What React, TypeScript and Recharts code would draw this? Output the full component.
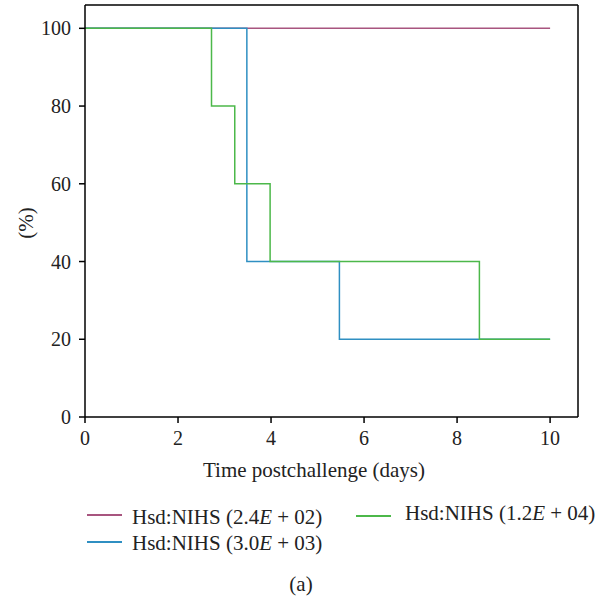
import React from 'react';
import { LineChart, Line, XAxis, YAxis, ReferenceLine } from 'recharts';

const xTicks = [0, 2, 4, 6, 8, 10];
const yTicks = [0, 20, 40, 60, 80, 100];

const seriesLow = [
  { x: 0, y: 100 },
  { x: 10, y: 100 },
];
const seriesMid = [
  { x: 0, y: 100 },
  { x: 3.48, y: 40 },
  { x: 5.47, y: 20 },
  { x: 10, y: 20 },
];
const seriesHigh = [
  { x: 0, y: 100 },
  { x: 2.72, y: 80 },
  { x: 3.22, y: 60 },
  { x: 3.98, y: 40 },
  { x: 8.48, y: 20 },
  { x: 10, y: 20 },
];

const COLORS = { low: '#a8557f', mid: '#2f8fc2', high: '#4cb84a' };
const FONT = '"Liberation Serif", "DejaVu Serif", serif';

const LegendItem = ({ color, label, exp, lineLeft, lineTop, textLeft, textTop }: any) => (
  <>
    <div style={{ position: 'absolute', left: lineLeft, top: lineTop - 1, width: 35, height: 2, background: color }} />
    <div style={{ position: 'absolute', left: textLeft, top: textTop, lineHeight: '24px', fontFamily: FONT, fontSize: 21, color: '#222', whiteSpace: 'nowrap' }}>
      Hsd:NIHS ({label}<i>E</i> + {exp})
    </div>
  </>
);

const XLabel = () => (
  <text x={314} y={470} textAnchor="middle" dominantBaseline="central" fill="#222" fontSize={21} fontFamily={FONT}>
    Time postchallenge (days)
  </text>
);
const YLabel = () => (
  <text x={26} y={223} textAnchor="middle" dominantBaseline="central" fill="#222" fontSize={21} fontFamily={FONT} transform="rotate(-90 26 223)">
    (%)
  </text>
);

export default function App() {
  return (
    <div style={{ position: 'absolute', left: 0, top: 0, width: 606, height: 600, background: '#fff' }}>
      <LineChart width={606} height={600} margin={{ top: 5, right: 28, left: 0, bottom: 123 }}>
        <XAxis
          type="number"
          dataKey="x"
          domain={[0, 10.6]}
          ticks={xTicks}
          allowDataOverflow
          stroke="#000"
          strokeWidth={1.5}
          tickSize={6}
          tickMargin={8}
          tick={{ fill: '#222', fontSize: 20, fontFamily: FONT }}
          height={60}
          label={<XLabel />}
        />
        <YAxis
          type="number"
          domain={[0, 106]}
          ticks={yTicks}
          allowDataOverflow
          stroke="#000"
          strokeWidth={1.5}
          tickSize={6}
          tickMargin={8}
          width={85}
          tick={{ fill: '#222', fontSize: 20, fontFamily: FONT }}
          label={<YLabel />}
        />
        <ReferenceLine y={106} stroke="#000" strokeWidth={1.5} />
        <ReferenceLine x={10.6} stroke="#000" strokeWidth={1.5} />
        <Line data={seriesLow} dataKey="y" type="stepAfter" stroke={COLORS.low} strokeWidth={1.5} dot={false} isAnimationActive={false} />
        <Line data={seriesMid} dataKey="y" type="stepAfter" stroke={COLORS.mid} strokeWidth={1.5} dot={false} isAnimationActive={false} />
        <Line data={seriesHigh} dataKey="y" type="stepAfter" stroke={COLORS.high} strokeWidth={1.5} dot={false} isAnimationActive={false} />
      </LineChart>
      <LegendItem color={COLORS.low} label="2.4" exp="02" lineLeft={87} lineTop={515} textLeft={132} textTop={505} />
      <LegendItem color={COLORS.mid} label="3.0" exp="03" lineLeft={87} lineTop={542} textLeft={132} textTop={531} />
      <LegendItem color={COLORS.high} label="1.2" exp="04" lineLeft={356} lineTop={516} textLeft={405} textTop={501} />
      <div style={{ position: 'absolute', left: 0, width: 602, top: 572, lineHeight: '24px', textAlign: 'center', fontFamily: FONT, fontSize: 21, color: '#222' }}>(a)</div>
    </div>
  );
}
